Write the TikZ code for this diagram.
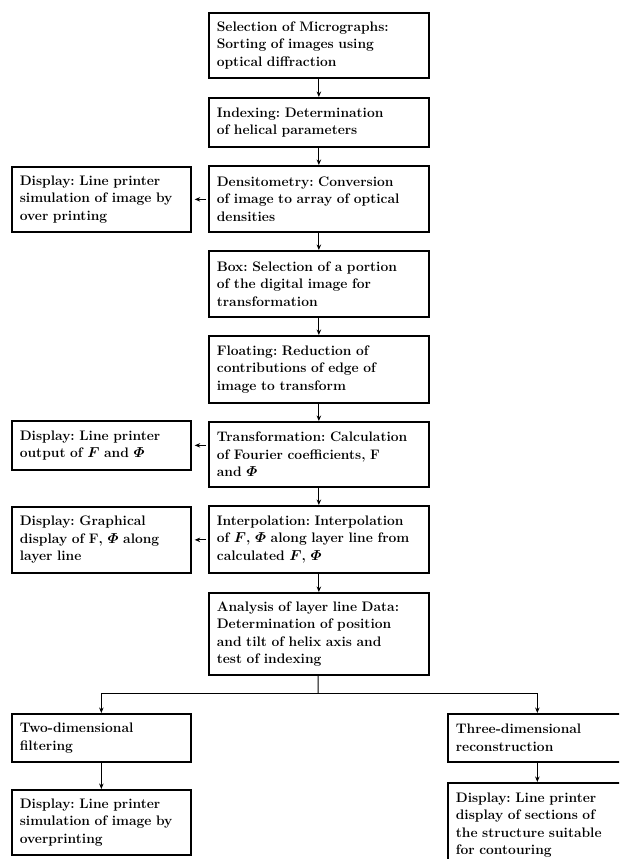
\documentclass[tikz,border=0pt]{standalone}
\usepackage{amsmath}
\usepackage{bm}
\usepackage{fontspec}
\usetikzlibrary{arrows.meta}
\tikzset{
  boxbase/.style={draw, line width=1.7pt, rectangle, anchor=north west, align=left,
    inner xsep=8pt, inner ysep=2pt, font=\fontsize{13.8}{17.5}\selectfont\bfseries\frenchspacing},
  mainbox/.style={boxbase, text width=204pt, minimum width=220pt},
  sidebox/.style={boxbase, text width=163pt, minimum width=179pt},
  arr/.style={line width=1pt, -{Stealth[length=5.5pt,width=4.5pt]}},
  link/.style={line width=1pt}
}
\newcommand{\FF}{$\bm{F}$}
\newcommand{\PP}{$\bm{\varPhi}$}
\begin{document}
\begin{tikzpicture}[x=1pt,y=-1pt]
\useasboundingbox (0,0) rectangle (619,859);
\clip (0,0) rectangle (619,859);
% main column
\node[mainbox, minimum height=65pt] (b1) at (208,12) {Selection of Micrographs:\\Sorting of images using\\optical diffraction};
\node[mainbox, minimum height=49pt] (b2) at (208,97) {Indexing: Determination\\of helical parameters};
\node[mainbox, minimum height=66pt] (b3) at (208,165) {Densitometry: Conversion\\of image to array of optical\\densities};
\node[mainbox, minimum height=66pt] (b4) at (208,250) {Box: Selection of a portion\\of the digital image for\\transformation};
\node[mainbox, minimum height=67pt] (b5) at (208,335) {Floating: Reduction of\\contributions of edge of\\image to transform};
\node[mainbox, minimum height=65pt] (b6) at (208,421) {Transformation: Calculation\\of Fourier coefficients, F\\and \PP};
\node[mainbox, minimum height=67pt] (b7) at (208,505) {Interpolation: Interpolation\\of \FF, \PP\ along layer line from\\calculated \FF, \PP};
\node[mainbox, minimum height=82pt] (b8) at (208,592) {Analysis of layer line Data:\\Determination of position\\and tilt of helix axis and\\test of indexing};
% side displays
\node[sidebox, minimum height=65pt] (d1) at (11,166) {Display: Line printer\\simulation of image by\\over printing};
\node[sidebox, minimum height=49pt] (d2) at (11,420) {Display: Line printer\\output of \FF\ and \PP};
\node[sidebox, minimum height=66pt] (d3) at (11,506) {Display: Graphical\\display of F, \PP\ along\\layer line};
% branches
\node[sidebox, minimum height=48pt] (l1) at (11,713) {Two-dimensional\\filtering};
\node[sidebox, minimum height=65pt] (l2) at (11,789) {Display: Line printer\\simulation of image by\\overprinting};
\node[sidebox, minimum height=48pt] (r1) at (447,713) {Three-dimensional\\reconstruction};
\node[sidebox, minimum height=84pt] (r2) at (447,782) {Display: Line printer\\display of sections of\\the structure suitable\\for contouring};
% connectors
\draw[arr] (b1) -- (b2);
\draw[arr] (b2) -- (b3);
\draw[arr] (b3) -- (b4);
\draw[arr] (b4) -- (b5);
\draw[arr] (b5) -- (b6);
\draw[arr] (b6) -- (b7);
\draw[arr] (b7) -- (b8);
\draw[arr, shorten <=2pt, shorten >=3pt] (b3.west |- d1.center) -- (d1.east);
\draw[arr, shorten <=2pt, shorten >=3pt] (b6.west |- d2.center) -- (d2.east);
\draw[arr, shorten <=2pt, shorten >=3pt] (b7.west |- d3.center) -- (d3.east);
\coordinate (j) at (318,693);
\draw[link] (b8) -- (j);
\draw[arr] (j) -| (l1);
\draw[arr] (j) -| (r1);
\draw[arr] (l1) -- (l2);
\draw[arr] (r1) -- (r2);
\end{tikzpicture}
\end{document}
